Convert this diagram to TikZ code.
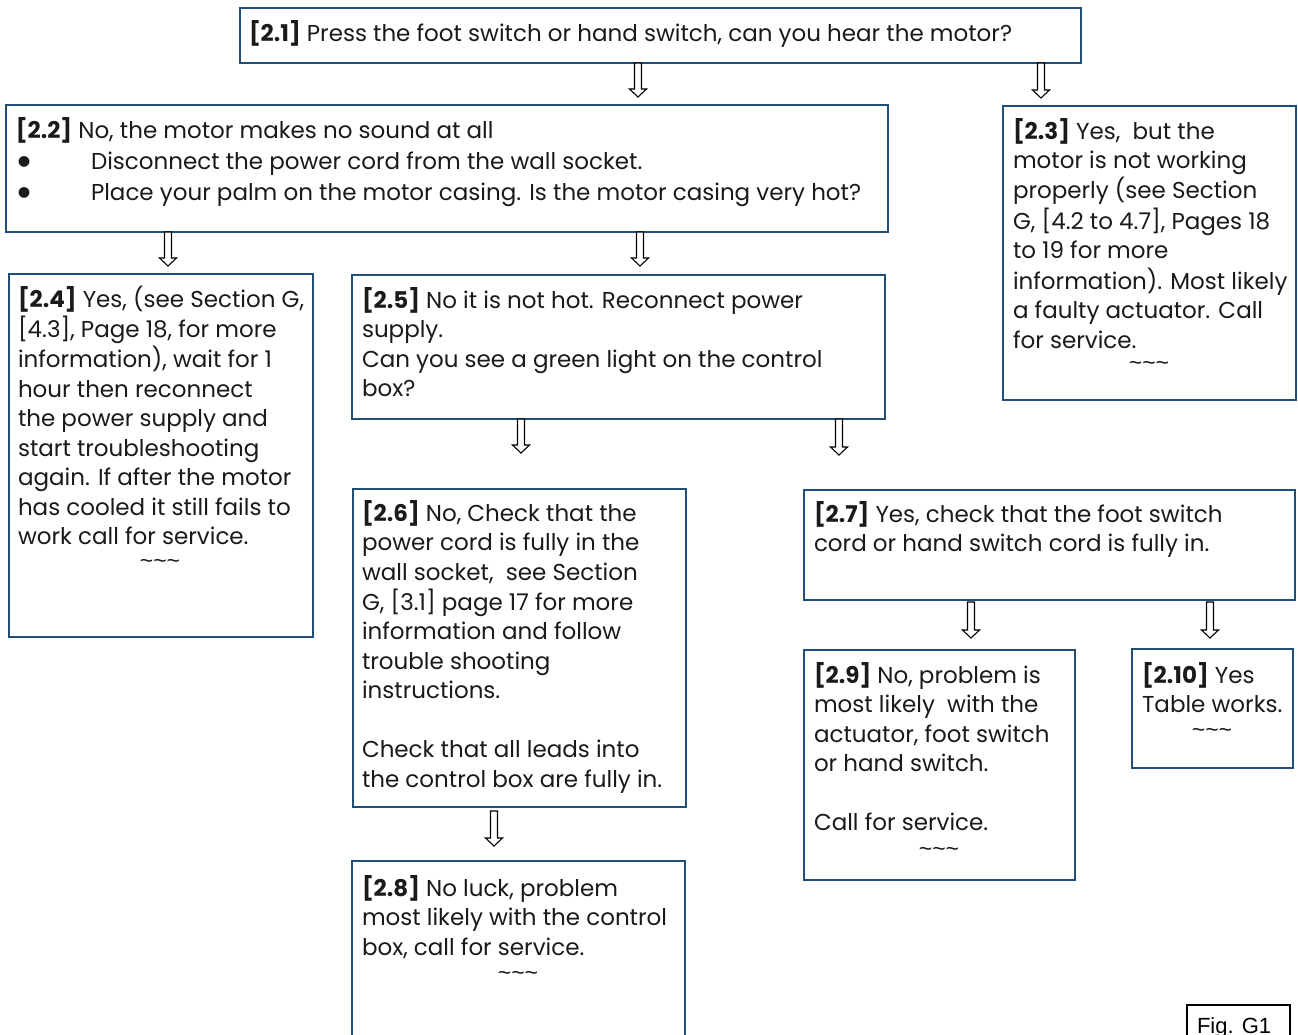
\documentclass[tikz,border=0pt]{standalone}
\usepackage{fontspec}
\setmainfont{Poppins}
\newfontfamily\figfont{Liberation Sans}
\usetikzlibrary{calc}
\definecolor{boxblue}{RGB}{31,78,121}
\definecolor{ink}{RGB}{26,26,26}
\newcommand\flowarrow[2]{%
  \draw[arrowline] let \p1=(#1), \p2=(#2) in
    (\x1-3.5pt,\y1) -- (\x1+3.5pt,\y1) -- (\x1+3.5pt,\y2+8pt) -- (\x1+8.5pt,\y2+8pt)
    -- (\x1,\y2) -- (\x1-8.5pt,\y2+8pt) -- (\x1-3.5pt,\y2+8pt) -- cycle;}
\newcommand\lines[1]{\begin{tabular}[t]{@{}l@{}}#1\end{tabular}}
\newcommand\bigbullet{\makebox[75pt][l]{\hspace*{-1pt}\smash{\raisebox{-7.5pt}{\scalebox{1.9}{\textbullet}}}}}
\newcommand\tildes{{\figfont\fontsize{23}{26}\selectfont\char`\~\char`\~\char`\~}}
\begin{document}
\begin{tikzpicture}[x=1pt,y=-1pt,
  box/.style={draw=boxblue, line width=2.5pt, fill=white, inner sep=0pt, outer sep=0pt, anchor=north west},
  txt/.style={anchor=base west, inner sep=0pt, outer sep=0pt, text=ink, font=\fontsize{23}{29.5}\selectfont},
  tilde/.style={anchor=center, inner sep=0pt, text=ink},
  arrowline/.style={draw=black, line width=1.1pt, fill=white, line join=miter},
  figbox/.style={draw=black, line width=2.8pt, inner sep=0pt, outer sep=0pt, anchor=north west}]
\useasboundingbox (0,0) rectangle (1298,1034);
\clip (0,0) rectangle (1298,1034);
\fill[white] (0,0) rectangle (1298,1034);

% boxes
\node[box, minimum width=841pt, minimum height=55pt]  (b21)  at (240,8)   {};
\node[box, minimum width=882pt, minimum height=127pt] (b22)  at (6,105)   {};
\node[box, minimum width=293pt, minimum height=294pt] (b23)  at (1003,106){};
\node[box, minimum width=304pt, minimum height=363pt] (b24)  at (9,274)   {};
\node[box, minimum width=533pt, minimum height=144pt] (b25)  at (352,275) {};
\node[box, minimum width=333pt, minimum height=318pt] (b26)  at (353,489) {};
\node[box, minimum width=491pt, minimum height=110pt] (b27)  at (804,490) {};
\node[box, minimum width=271pt, minimum height=230pt] (b29)  at (804,650) {};
\node[box, minimum width=161pt, minimum height=119pt] (b210) at (1132,649){};
\node[box, minimum width=333pt, minimum height=200pt] (b28)  at (352,861) {};
\node[figbox, minimum width=103pt, minimum height=60pt] (fig) at (1187,1005) {};

% texts
\node[txt] (t21) at (249,41) {\lines{\textbf{[2.1]} Press the foot switch or hand switch, can you hear the motor?}};
\node[txt, font=\fontsize{23}{31}\selectfont] (t22) at (16,138) {\lines{\textbf{[2.2]} No, the motor makes no sound at all\\
  \bigbullet Disconnect the power cord from the wall socket.\\
  \bigbullet Place your palm on the motor casing. Is the motor casing very hot?}};
\node[txt] (t23) at (1013,139) {\lines{\textbf{[2.3]} Yes,~ but the\\ motor is not working\\ properly (see Section\\
  G, [4.2 to 4.7], Pages 18\\ to 19 for more\\ information). Most likely\\ a faulty actuator. Call\\ for service.}};
\node[txt] (t24) at (18,307) {\lines{\textbf{[2.4]} Yes, (see Section G,\\ {}[4.3], Page 18, for more\\ information), wait for 1\\
  hour then reconnect\\ the power supply and\\ start troubleshooting\\ again. If after the motor\\ has cooled it still fails to\\ work call for service.}};
\node[txt] (t25) at (362,308) {\lines{\textbf{[2.5]} No it is not hot. Reconnect power\\ supply.\\ Can you see a green light on the control\\ box?}};
\node[txt] (t26) at (362,521) {\lines{\textbf{[2.6]} No, Check that the\\ power cord is fully in the\\ wall socket,~ see Section\\
  G, [3.1] page 17 for more\\ information and follow\\ trouble shooting\\ instructions.\\ {}\\ Check that all leads into\\ the control box are fully in.}};
\node[txt] (t27) at (814,522) {\lines{\textbf{[2.7]} Yes, check that the foot switch\\ cord or hand switch cord is fully in.}};
\node[txt] (t29) at (814,683) {\lines{\textbf{[2.9]} No, problem is\\ most likely~ with the\\ actuator, foot switch\\ or hand switch.\\ {}\\ Call for service.}};
\node[txt] (t210) at (1142,683) {\lines{\textbf{[2.10]} Yes\\ Table works.}};
\node[txt] (t28) at (362,896) {\lines{\textbf{[2.8]} No luck, problem\\ most likely with the control\\ box, call for service.}};
\node[txt, font=\figfont\fontsize{22}{26}\selectfont, text=black] (tfig) at (1197,1033) {Fig. G1};

% tildes
\node[tilde] (s23) at (1149,366) {\tildes};
\node[tilde] (s24) at (160,564) {\tildes};
\node[tilde] (s28) at (518,976) {\tildes};
\node[tilde] (s29) at (939,852) {\tildes};
\node[tilde] (s210) at (1212,733) {\tildes};

% arrows
\coordinate (a1s) at ([xshift=398pt]b21.south west);  \coordinate (a1e) at ([yshift=-34pt]a1s);
\coordinate (a2s) at ([xshift=801pt]b21.south west);  \coordinate (a2e) at ([yshift=-35pt]a2s);
\coordinate (a3s) at ([xshift=162pt]b22.south west);  \coordinate (a3e) at ([yshift=-34pt]a3s);
\coordinate (a4s) at ([xshift=634pt]b22.south west);  \coordinate (a4e) at ([yshift=-34pt]a4s);
\coordinate (a5s) at ([xshift=169pt]b25.south west);  \coordinate (a5e) at ([yshift=-34pt]a5s);
\coordinate (a6s) at ([xshift=487pt]b25.south west);  \coordinate (a6e) at ([yshift=-36pt]a6s);
\coordinate (a7s) at ([xshift=141pt,yshift=-4pt]b26.south west); \coordinate (a7e) at ([yshift=-35pt]a7s);
\coordinate (a8s) at ([xshift=167pt,yshift=-2pt]b27.south west); \coordinate (a8e) at ([yshift=-36pt]a8s);
\coordinate (a9s) at ([xshift=406pt,yshift=-2pt]b27.south west); \coordinate (a9e) at ([yshift=-36pt]a9s);
\foreach \k in {1,...,9} {\flowarrow{a\k s}{a\k e}}
\end{tikzpicture}
\end{document}
